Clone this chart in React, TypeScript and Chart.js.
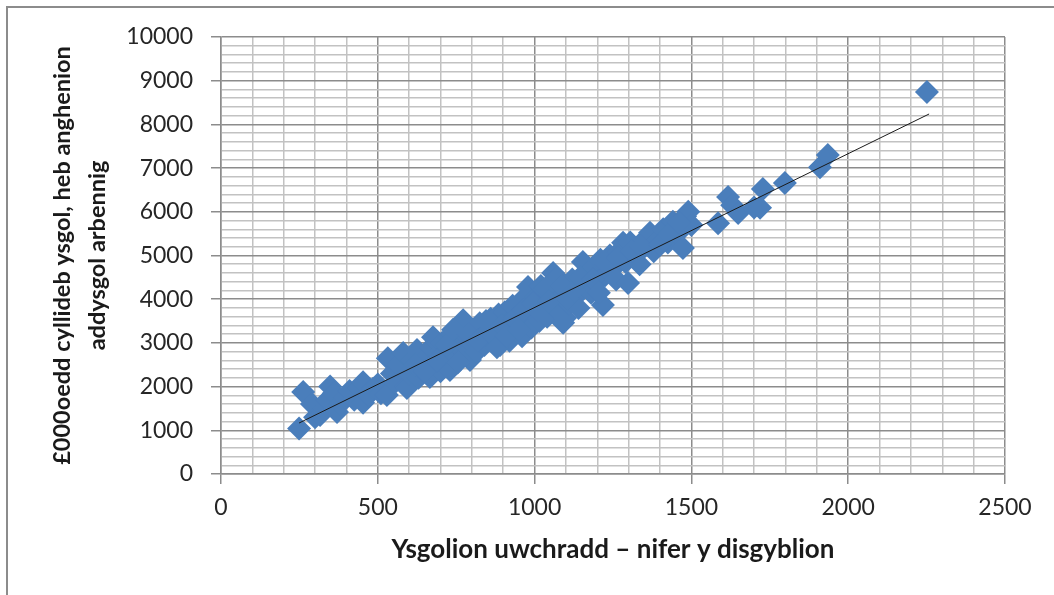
import React, { useEffect, useRef } from "react";
import { Chart, registerables } from "chart.js";

Chart.register(...registerables);

// Pupils (x) and budget in £000s (y)
const pupils: number[] = [
  249, 262, 290, 300, 316, 330, 340, 348, 360, 370, 380, 395, 410, 425, 440, 453, 453, 470, 485, 500,
  510, 529, 532, 545, 555, 565, 581, 590, 593, 600, 610, 625, 630, 640, 655, 666, 670, 676, 685, 695,
  700, 705, 715, 725, 730, 735, 745, 750, 760, 765, 772, 780, 785, 794, 800, 810, 815, 825, 830, 840,
  850, 860, 865, 875, 885, 890, 900, 905, 915, 920, 930, 940, 945, 955, 960, 970, 979, 985, 990, 1000,
  1005, 1015, 1020, 1030, 1040, 1050, 1059, 1065, 1071, 1080, 1091, 1097, 1100, 1110, 1120, 1130, 1140, 1154, 1160, 1170,
  1180, 1190, 1200, 1210, 1218, 1225, 1240, 1250, 1260, 1270, 1282, 1290, 1298, 1305, 1320, 1335, 1350, 1358, 1368, 1380,
  1395, 1410, 1425, 1441, 1455, 1473, 1480, 1490, 1500, 1585, 1617, 1630, 1649, 1700, 1719, 1728, 1798, 1910, 1935, 2251,
  620, 650, 690, 720, 740, 755, 790, 820, 845, 870, 880, 895, 910, 935, 950, 965, 995, 1010, 1035, 1045,
  1085, 1105, 1125, 1145, 1185, 1205, 1230, 1265, 1310, 1340, 1400, 1430, 1460,
];

const budget: number[] = [
  1040, 1877, 1600, 1300, 1350, 1500, 1700, 2000, 1850, 1420, 1600, 1750, 1900, 1700, 1950, 2100, 1630, 1800, 1950, 2050,
  1850, 1810, 2650, 2300, 2100, 2500, 2770, 2000, 1970, 2300, 2600, 2840, 2200, 2450, 2650, 2220, 2900, 3130, 2500, 2750,
  2350, 3000, 2600, 2850, 2380, 3200, 2700, 3050, 2900, 3350, 3520, 2750, 3150, 2610, 3000, 3300, 2800, 3450, 3100, 2950,
  3250, 3550, 3050, 3350, 3650, 2950, 3200, 3700, 3450, 3050, 3850, 3300, 3600, 3950, 3150, 3500, 4280, 3800, 3350, 3650,
  4050, 3500, 4300, 3800, 3600, 4100, 4600, 3900, 4500, 3700, 3460, 3570, 4200, 3900, 4450, 4050, 3800, 4850, 4300, 4600,
  4150, 4750, 4400, 4900, 3870, 4550, 5000, 4700, 4450, 5100, 5290, 4850, 4370, 5300, 5000, 4800, 5200, 5420, 5520, 5100,
  5350, 5600, 5300, 5770, 5500, 5170, 5900, 6000, 5700, 5740, 6340, 6150, 5970, 6100, 6090, 6520, 6660, 7020, 7300, 8740,
  2500, 2350, 2600, 2950, 3300, 2550, 3200, 3050, 3500, 3150, 2900, 3400, 3150, 3550, 3300, 3750, 3900, 3750, 4250, 3950,
  4300, 4000, 4200, 4500, 4450, 4150, 4800, 4950, 5100, 5200, 5250, 5500, 5750,
];

// Linear trend line end points
const trendX: number[] = [249, 2258];
const trendY: number[] = [1167, 8238];

const xTitle = "Ysgolion uwchradd – nifer y disgyblion";
const yTitle: string[] = ["£000oedd cyllideb ysgol, heb anghenion", "addysgol arbennig"];

const MAJOR = "#8c8c8c";
const MINOR = "#c2c2c2";
const FONT = "Lato, 'Open Sans', 'DejaVu Sans', sans-serif";

export default function App() {
  const ref = useRef<HTMLCanvasElement | null>(null);

  useEffect(() => {
    if (!ref.current) return;
    const points = pupils.map((x, i) => ({ x, y: budget[i] }));
    const trend = trendX.map((x, i) => ({ x, y: trendY[i] }));

    const chart = new Chart(ref.current, {
      type: "scatter",
      data: {
        datasets: [
          {
            type: "line",
            label: "trend",
            data: trend,
            borderColor: "#1a1a1a",
            borderWidth: 1,
            pointRadius: 0,
            showLine: true,
            fill: false,
          } as any,
          {
            label: "schools",
            data: points,
            pointStyle: "rectRot",
            pointRadius: 12,
            pointHoverRadius: 12,
            backgroundColor: "#4a7ebb",
            borderWidth: 0,
          },
        ],
      },
      options: {
        animation: false,
        responsive: true,
        maintainAspectRatio: false,
        layout: { padding: { top: 37, right: 49, bottom: 0, left: 0 } },
        plugins: { legend: { display: false }, tooltip: { enabled: false } },
        scales: {
          x: {
            type: "linear",
            min: 0,
            max: 2500,
            afterFit: (scale: any) => {
              scale.height = 121;
            },
            ticks: {
              stepSize: 100,
              autoSkip: false,
              maxRotation: 0,
              padding: 10,
              color: "#262626",
              font: { family: FONT, size: 23 },
              callback: (v: any) => (Number(v) % 500 === 0 ? String(v) : ""),
            },
            grid: {
              color: (ctx: any) => (ctx.tick && ctx.tick.value % 500 === 0 ? MAJOR : MINOR),
              tickColor: (ctx: any) => (ctx.tick && ctx.tick.value % 500 === 0 ? MAJOR : "rgba(0,0,0,0)"),
              lineWidth: 1.5,
              tickLength: 10,
            },
            border: { color: MAJOR, width: 1.5 },
            title: {
              display: true,
              text: xTitle,
              color: "#1a1a1a",
              font: { family: FONT, size: 26, weight: "bold" },
              padding: { top: 0, bottom: 30 },
            },
          },
          y: {
            type: "linear",
            min: 0,
            max: 10000,
            afterFit: (scale: any) => {
              scale.width = 221;
            },
            ticks: {
              stepSize: 200,
              autoSkip: false,
              padding: 18,
              color: "#262626",
              font: { family: FONT, size: 23 },
              callback: (v: any) => (Number(v) % 1000 === 0 ? String(v) : ""),
            },
            grid: {
              color: (ctx: any) => (ctx.tick && ctx.tick.value % 1000 === 0 ? MAJOR : MINOR),
              tickColor: (ctx: any) => (ctx.tick && ctx.tick.value % 1000 === 0 ? MAJOR : "rgba(0,0,0,0)"),
              lineWidth: 1.5,
              tickLength: 10,
            },
            border: { color: MAJOR, width: 1.5 },
            title: {
              display: true,
              text: yTitle,
              color: "#1a1a1a",
              font: { family: FONT, size: 23.5, weight: "bold", lineHeight: 1.5 },
              padding: { top: 45, bottom: 0 },
            },
          },
        },
      },
    });
    return () => chart.destroy();
  }, []);

  return (
    <div style={{ position: "absolute", left: 0, top: 0, width: 1054, height: 595, background: "#fff", overflow: "hidden" }}>
      <div
        style={{
          position: "absolute",
          left: 6,
          top: 6,
          width: 1100,
          height: 650,
          borderLeft: "2px solid #8c8c8c",
          borderTop: "2px solid #8c8c8c",
        }}
      />
      <canvas ref={ref} style={{ position: "absolute", left: 0, top: 0, width: 1054, height: 595 }} />
    </div>
  );
}
